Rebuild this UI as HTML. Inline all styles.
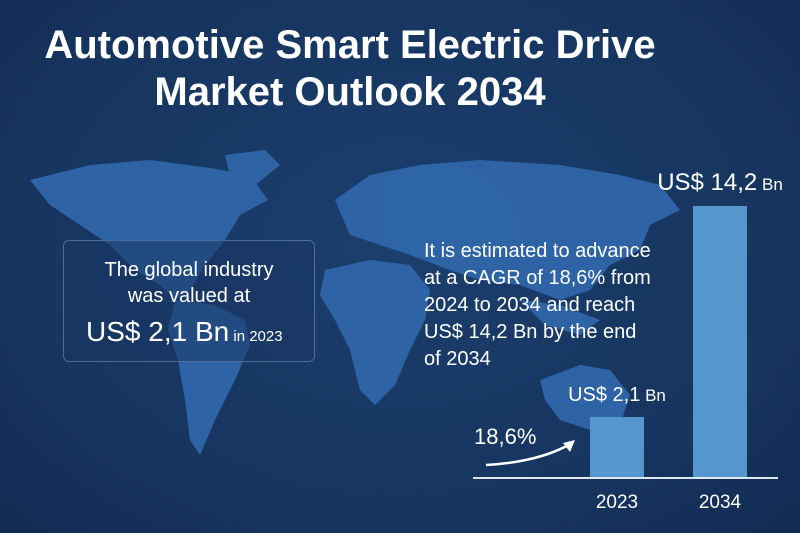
<!DOCTYPE html>
<html><head><meta charset="utf-8">
<style>
body{margin:0;width:800px;height:533px;overflow:hidden;background:#16345e;font-family:"Liberation Sans",sans-serif;color:#fff}
#wrap{position:relative;width:800px;height:533px;background:radial-gradient(ellipse at 50% 45%,#1c3f6e 0%,#16345e 70%,#122b52 100%)}
.t{position:absolute;white-space:nowrap}
</style></head><body>
<div id="wrap">
<svg width="800" height="533" style="position:absolute;left:0;top:0">
<g fill="#3169ad" opacity="0.9">
<path d="M30,180 L90,165 L150,160 L210,168 L250,175 L268,200 L240,215 L225,240 L205,265 L190,290 L175,300 L160,285 L135,270 L110,245 L80,225 L50,205 Z"/>
<path d="M225,155 L265,150 L280,165 L255,185 L230,175 Z"/>
<path d="M175,300 L215,305 L245,320 L250,345 L235,380 L215,420 L200,455 L190,440 L185,400 L178,360 L168,330 Z"/>
<path d="M335,200 L370,175 L420,165 L480,160 L560,165 L620,175 L660,185 L680,210 L650,225 L640,250 L610,265 L590,290 L560,300 L520,285 L480,280 L450,270 L410,255 L380,245 L350,235 Z"/>
<path d="M325,270 L370,260 L410,265 L430,290 L425,320 L410,350 L395,385 L375,405 L360,390 L350,350 L335,320 L320,295 Z"/>
<path d="M540,380 L580,365 L610,370 L630,395 L620,425 L590,430 L560,420 L545,400 Z"/>
<path d="M520,300 L560,305 L600,320 L580,335 L545,325 Z"/>
</g>
</svg>
<div class="t" style="left:0;width:700px;top:22px;text-align:center;font-size:40px;font-weight:bold;line-height:47px">Automotive Smart Electric Drive<br>Market Outlook 2034</div>
<div style="position:absolute;left:63px;top:240px;width:250px;height:120px;border:1px solid #4a6d9a;border-radius:6px;background:rgba(25,55,100,0.55)"></div>
<div class="t" style="left:63px;width:252px;top:257px;text-align:center;font-size:20px;line-height:26px">The global industry<br>was valued at</div>
<div class="t" style="left:86px;top:316px;font-size:28px">US$ 2,1 Bn<span style="font-size:15px"> in 2023</span></div>
<div class="t" style="left:424px;top:238px;font-size:20px;line-height:27px">It is estimated to advance<br>at a CAGR of 18,6% from<br>2024 to 2034 and reach<br>US$ 14,2 Bn by the end<br>of 2034</div>
<div class="t" style="left:474px;top:424px;font-size:22px">18,6%</div>
<svg id="chart" width="800" height="533" style="position:absolute;left:0;top:0">
<path d="M486,465 Q540,462 572,443" fill="none" stroke="#fff" stroke-width="2.5"/>
<path d="M575,440 L563,443 L570,452 Z" fill="#fff"/>
</svg>
</div>
<script>
const categories=["2023","2034"];
const values=[2.1,14.2];
const valueLabels=["US$ 2,1","US$ 14,2"];
const svg=document.getElementById('chart');
const NS='http://www.w3.org/2000/svg';
const baseY=478, topY=206, dMin=-1.4, dMax=14.2;
function y(v){return baseY-(v-dMin)/(dMax-dMin)*(baseY-topY);}
function x(i){return 590+i*103;}
const bw=54;
const axis=document.createElementNS(NS,'line');


axis.setAttribute('x1',473);axis.setAttribute('x2',778);axis.setAttribute('y1',baseY);axis.setAttribute('y2',baseY);
axis.setAttribute('stroke','#dfe6ef');axis.setAttribute('stroke-width','2');
categories.forEach((c,i)=>{
  const r=document.createElementNS(NS,'rect');
  
  
  r.setAttribute('x',x(i));r.setAttribute('y',y(values[i]));
  r.setAttribute('width',bw);r.setAttribute('height',baseY-y(values[i]));
  r.setAttribute('fill','#5596cf');
  svg.appendChild(r);
  const t=document.createElementNS(NS,'text');
  
  
  t.setAttribute('x',x(i)+bw/2);t.setAttribute('y',baseY+30);
  t.setAttribute('text-anchor','middle');t.setAttribute('fill','#fff');t.setAttribute('font-size','19');
  t.setAttribute('font-family','Liberation Sans');
  t.textContent=c;svg.appendChild(t);
  const l=document.createElementNS(NS,'text');
  
  
  l.setAttribute('x',x(i)+bw/2);l.setAttribute('y',y(values[i])-16);
  l.setAttribute('text-anchor','middle');l.setAttribute('fill','#fff');l.setAttribute('font-size',i?'24':'20');
  l.setAttribute('font-family','Liberation Sans');
  l.innerHTML=valueLabels[i]+'<tspan font-size="17"> Bn</tspan>';
  svg.appendChild(l);
});
svg.appendChild(axis);
</script>
</body></html>
